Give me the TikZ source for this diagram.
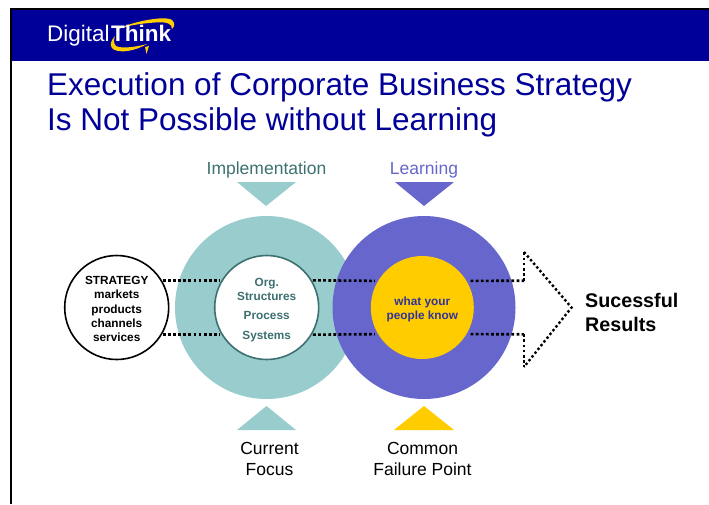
\documentclass[tikz,border=0pt]{standalone}
\usepackage{fontspec}
\setmainfont{Liberation Sans}
\definecolor{bandblue}{HTML}{000099}
\definecolor{tealfill}{HTML}{99CCCC}
\definecolor{tealtext}{HTML}{3D7070}
\definecolor{purplefill}{HTML}{6666CC}
\definecolor{goldfill}{HTML}{FFCC00}
\definecolor{purpletext}{HTML}{333399}
\tikzset{
    disc/.style={circle,inner sep=0pt},
    disctext/.style={inner sep=0pt,align=center,font=\bfseries\fontsize{11.8}{14.2}\selectfont},
    caption/.style={align=center,font=\fontsize{17.5}{21}\selectfont},
    dotline/.style={line width=2.6pt,dash pattern=on 2.8pt off 2.3pt}
}
\begin{document}
\begin{tikzpicture}[x=1pt,y=-1pt]
    \useasboundingbox (0,0) rectangle (709,504);
    % Draw the frame and the band
    \fill[bandblue] (11,10) rectangle (709,60.5);
    \draw[line width=2pt] (709,9) -- (11,9) -- (11,504);
    % Draw the logo
    \fill[goldfill] (115,36) .. controls (106,46) and (112,53) .. (127,51) .. controls (135,50) and (142,47) .. (147,44) .. controls (140,46) and (122,49.5) .. (116,46) .. controls (113,43) and (114,39) .. (115,36) -- cycle;
    \fill[goldfill] (145,47) -- (149,46) -- (146.5,54) -- cycle;
    \fill[goldfill] (116,30) .. controls (130,22) and (165,15) .. (172,20) .. controls (175,23) and (175,26) .. (172,29) .. controls (172,24) and (168,21.5) .. (155,22.5) .. controls (140,23.5) and (125,26) .. (116,30) -- cycle;
    \node[anchor=west,inner sep=0pt,text=white,font=\fontsize{22.5}{26}\selectfont] (brand) at (47,36) {Digital\hspace{1.5pt}\textbf{Think}};
    % Draw the title
    \node[anchor=west,inner sep=0pt,text=bandblue,align=left,font=\fontsize{31.5}{35}\selectfont] (title) at (47,104.5) {Execution of Corporate Business Strategy\\Is Not Possible without Learning};
    % Draw the big discs
    \node[disc,fill=tealfill,minimum size=183pt] (impl) at (266.5,307.5) {};
    \node[disc,fill=purplefill,minimum size=183pt] (learn) at (424,307.5) {};
    % Draw the small discs
    \node[disc,draw,line width=1.6pt,fill=white,minimum size=104pt] (strategy) at (116.7,307.5) {};
    \node[disc,draw=tealtext,line width=1.6pt,fill=white,minimum size=104pt] (org) at (266.7,307.5) {};
    \node[disc,fill=goldfill,minimum size=103pt] (people) at (422.3,307.5) {};
    \node[disctext] (strategytext) at ([yshift=-1.5pt]strategy.center) {STRATEGY\\markets\\products\\channels\\services};
    \node[disctext,text=tealtext] (orgtext) at ([yshift=-2.5pt]org.center) {Org.\\Structures\\[5pt]Process\\[6pt]Systems};
    \node[disctext,text=purpletext] (peopletext) at ([yshift=-2pt]people.center) {what your\\people know};
    % Draw the dotted links
    \coordinate (tiptop) at (524,252);
    \coordinate (tipbottom) at (524,367);
    \coordinate (tipnose) at (571.5,307.5);
    \coordinate (uppercorner) at (524,280.7);
    \coordinate (lowercorner) at (524,334.3);
    \draw[dotline,shorten <=1pt,shorten >=2pt] (strategy.31) -- (org.149);
    \draw[dotline,shorten <=1pt,shorten >=2pt] (strategy.-31) -- (org.-149);
    \draw[dotline,shorten <=1pt,shorten >=3pt] (org.31) -- (people.149);
    \draw[dotline,shorten <=1pt,shorten >=3pt] (org.-31) -- (people.-149);
    \draw[dotline,shorten <=4pt] (people.31) -- (uppercorner);
    \draw[dotline,shorten <=4pt] (people.-31) -- (lowercorner);
    \draw[dotline] (uppercorner) -- (tiptop);
    \draw[dotline] (lowercorner) -- (tipbottom);
    \draw[dotline,line width=2.4pt,dash pattern=on 2.4pt off 2.4pt] (tiptop) -- (tipnose) -- (tipbottom);
    \node[anchor=west,inner sep=0pt,align=left,font=\bfseries\fontsize{19.7}{24}\selectfont] (results) at (585,312) {Sucessful\\Results};
    % Draw the triangles
    \fill[tealfill] (237,182) -- (296,182) -- (266,206) -- cycle;
    \fill[purplefill] (395,182) -- (454,182) -- (424,206) -- cycle;
    \fill[tealfill] (237,430) -- (296,430) -- (266.5,406) -- cycle;
    \fill[goldfill] (394,430) -- (454,430) -- (424,406) -- cycle;
    % Draw the captions
    \node[caption,text=tealtext] (impltext) at (266.5,170) {Implementation};
    \node[caption,text=purplefill] (learntext) at (424,170) {Learning};
    \node[caption] (focus) at (269.5,458.5) {Current\\Focus};
    \node[caption] (failure) at (422.5,458.5) {Common\\Failure Point};
\end{tikzpicture}
\end{document}
